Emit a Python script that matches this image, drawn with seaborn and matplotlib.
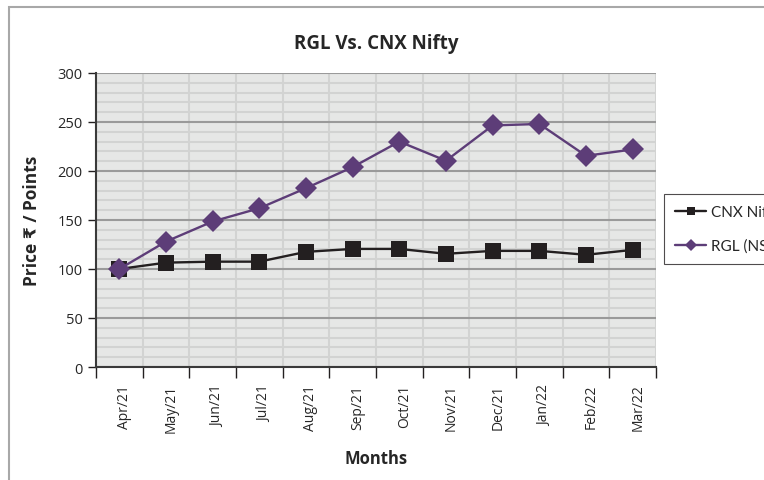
import matplotlib
matplotlib.use("Agg")
import matplotlib.pyplot as plt
import matplotlib.transforms as mtransforms
import seaborn as sns
import pandas as pd
from matplotlib.patches import Rectangle
from matplotlib.ticker import MultipleLocator, FixedLocator

months = ["Apr/21", "May/21", "Jun/21", "Jul/21", "Aug/21", "Sep/21",
          "Oct/21", "Nov/21", "Dec/21", "Jan/22", "Feb/22", "Mar/22"]
cnx_nifty = [100, 106.5, 107.5, 107.5, 117.5, 120.5, 120.5, 115.5, 118.5, 118.5, 114.5, 119.5]
rgl_nse = [100, 128, 148.5, 162, 182.5, 204, 230, 210.5, 246.5, 248, 215.5, 222]

sns.set_theme(style="white")
plt.rcParams["font.family"] = ["Open Sans", "DejaVu Sans"]

df = pd.DataFrame({"Month": months, "CNX Nifty": cnx_nifty, "RGL (NSE)": rgl_nse})

fig = plt.figure(figsize=(7.64, 4.81), dpi=100)
ax = fig.add_axes([96 / 764, 1 - 368 / 481, 560 / 764, 294 / 481])
ax.set_facecolor("#e6e7e6")

sns.lineplot(data=df, x="Month", y="CNX Nifty", ax=ax, color="#231f20",
             linewidth=1.7, marker="s", markersize=11, markeredgewidth=0,
             label="CNX Nifty", zorder=4)
sns.lineplot(data=df, x="Month", y="RGL (NSE)", ax=ax, color="#5d3d78",
             linewidth=1.7, marker="D", markersize=11.5, markeredgewidth=0,
             label="RGL (NSE)", zorder=5)

ax.set_xlim(-0.5, len(months) - 0.5)
ax.set_ylim(0, 300)
ax.yaxis.set_major_locator(MultipleLocator(50))
ax.yaxis.set_minor_locator(MultipleLocator(10))
ax.xaxis.set_minor_locator(FixedLocator([i - 0.5 for i in range(len(months) + 1)]))

ax.grid(which="minor", axis="y", color="#d2d3d2", linewidth=1.5, zorder=0)
ax.grid(which="major", axis="y", color="#9a9a9a", linewidth=1.5, zorder=1)
ax.grid(which="minor", axis="x", color="#d2d3d2", linewidth=1.5, zorder=0)
ax.grid(which="major", axis="x", visible=False)
ax.set_axisbelow(True)

ax.tick_params(axis="x", which="major", length=0, labelrotation=90, labelsize=10, pad=12)
ax.tick_params(axis="x", which="minor", length=8, width=1, color="#231f20", direction="out", bottom=True)
ax.tick_params(axis="y", which="major", length=6, width=1, color="#231f20", direction="out", left=True, labelsize=10.5)
ax.tick_params(axis="y", which="minor", length=0)

# month labels sit a little right of the category centre
shift = mtransforms.ScaledTranslation(5 / 100, 0, fig.dpi_scale_trans)
for lbl in ax.get_xticklabels():
    lbl.set_transform(lbl.get_transform() + shift)

for side in ["top", "right"]:
    ax.spines[side].set_visible(False)
for side in ["left", "bottom"]:
    ax.spines[side].set_color("#3a3a3a")
    ax.spines[side].set_linewidth(1.5)

ax.set_title("RGL Vs. CNX Nifty", fontsize=13.5, fontweight="bold", pad=18)
ax.set_xlabel("Months", fontsize=12, fontweight="bold", labelpad=12)
ax.set_ylabel("Price \u20b9 / Points", fontsize=12.5, fontweight="bold", labelpad=12)

leg = ax.legend(loc="upper left", bbox_to_anchor=(664 / 764, 1 - 195 / 481),
                bbox_transform=fig.transFigure, frameon=True, fancybox=False,
                prop={"family": ["Lato", "DejaVu Sans"], "size": 11},
                markerscale=0.5, handlelength=2.0, handletextpad=0.35,
                labelspacing=1.25, borderpad=0.75, borderaxespad=0)
leg.get_frame().set_edgecolor("#231f20")
leg.get_frame().set_linewidth(0.8)

# outer chart frame
fig.patches.append(Rectangle((9 / 764, -0.2), 2, 1.2 - 8 / 481,
                             transform=fig.transFigure, fill=False,
                             edgecolor="#a8a8a8", linewidth=1.5))

fig.savefig("out.png", dpi=100)
